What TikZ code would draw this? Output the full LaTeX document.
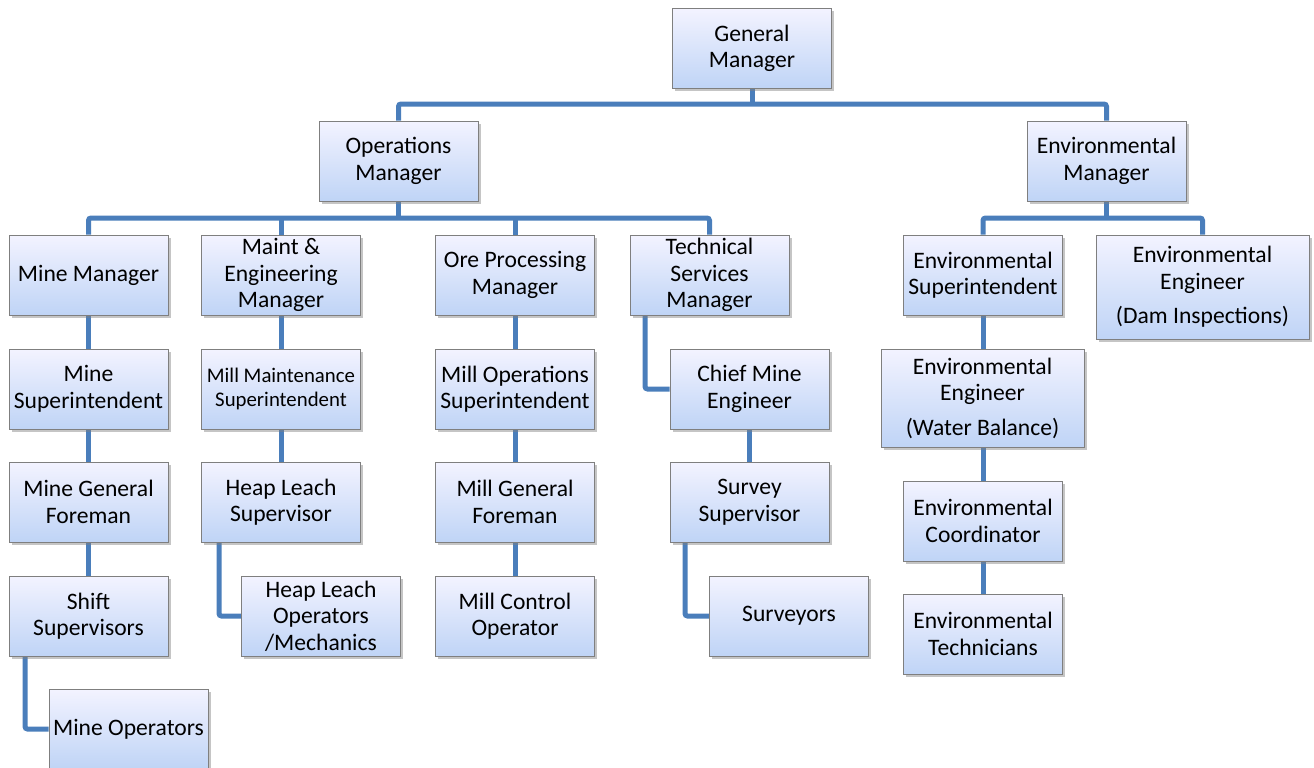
\documentclass[tikz,border=0pt]{standalone}
\usepackage{fontspec}
\setmainfont{Carlito}
\usetikzlibrary{shadows,backgrounds}
\definecolor{linec}{HTML}{4A7EBB}
\definecolor{boxtop}{HTML}{F3F3FF}
\definecolor{boxbot}{HTML}{BFD4F6}
\definecolor{boxline}{HTML}{7F7F7F}
\tikzset{
  box/.style={draw=boxline, line width=0.9pt, top color=boxtop, bottom color=boxbot,
    minimum width=159pt, minimum height=80pt, align=center, inner sep=0pt,
    font=\fontsize{23.6}{26.5}\selectfont,
    drop shadow={opacity=0.45, shadow xshift=2.5pt, shadow yshift=-2.5pt}},
  smalltext/.style={font=\fontsize{20.8}{24}\selectfont},
  conn/.style={draw=linec, line width=5pt, rounded corners=2.5pt}
}
\begin{document}
\begin{tikzpicture}[x=1pt,y=-1pt]
\useasboundingbox (0,0) rectangle (1314,768);
% level 0-1
\node[box] (gm) at (752,48.5) {General\\Manager};
\node[box] (ops) at (398.5,161) {Operations\\Manager};
\node[box] (env) at (1106.5,161) {Environmental\\Manager};
% level 2
\node[box] (mm) at (88.5,275) {Mine Manager};
\node[box] (maint) at (281,275) {Maint \&\\Engineering\\Manager};
\node[box] (ore) at (515,275) {Ore Processing\\Manager};
\node[box] (tsm) at (709.5,275) {Technical\\Services\\Manager};
\node[box] (esup) at (983,275) {Environmental\\Superintendent};
\node[box, minimum width=213pt, minimum height=104pt] (edam) at (1202.5,287) {Environmental\\Engineer\\[8pt](Dam Inspections)};
% level 3
\node[box] (msup) at (88.5,389) {Mine\\Superintendent};
\node[box, smalltext] (mmsup) at (281,389) {Mill Maintenance\\Superintendent};
\node[box] (mosup) at (515,389) {Mill Operations\\Superintendent};
\node[box] (cme) at (749.5,389) {Chief Mine\\Engineer};
\node[box, minimum width=203pt, minimum height=98pt] (ewb) at (982.5,398) {Environmental\\Engineer\\[8pt](Water Balance)};
% level 4
\node[box] (mgf) at (88.5,502) {Mine General\\Foreman};
\node[box] (hls) at (281,502) {Heap Leach\\Supervisor};
\node[box] (millgf) at (515,502) {Mill General\\Foreman};
\node[box] (ss) at (749.5,502) {Survey\\Supervisor};
\node[box] (ecoord) at (983,521) {Environmental\\Coordinator};
% level 5
\node[box] (shift) at (88.5,616) {Shift\\Supervisors};
\node[box] (hlo) at (321,616) {Heap Leach\\Operators\\/Mechanics};
\node[box] (mco) at (515,616) {Mill Control\\Operator};
\node[box] (surv) at (789,616) {Surveyors};
\node[box] (etech) at (983,634) {Environmental\\Technicians};
% level 6
\node[box] (mop) at (128.5,729) {Mine Operators};
% bus coordinates
\coordinate (b0) at (752,104);
\coordinate (b1) at (398.5,218);
\coordinate (b2) at (1106.5,218);
\begin{scope}[on background layer]
\fill[white] (0,0) rectangle (1314,768);
\draw[conn] (gm.south) -- (b0);
\draw[conn] (ops.north) |- (b0) -| (env.north);
\draw[conn] (ops.south) -- (b1);
\draw[conn] (mm.north) |- (b1) -| (tsm.north);
\draw[conn] (maint.north) -- (maint.north |- b1);
\draw[conn] (ore.north) -- (ore.north |- b1);
\draw[conn] (env.south) -- (b2);
\draw[conn] (esup.north) |- (b2) -| (edam.north);
% chains
\draw[conn] (mm.south) -- (msup.north);
\draw[conn] (msup.south) -- (mgf.north);
\draw[conn] (mgf.south) -- (shift.north);
\draw[conn] (shift.south -| 25,0) |- (mop.west);
\draw[conn] (maint.south) -- (mmsup.north);
\draw[conn] (mmsup.south) -- (hls.north);
\draw[conn] (hls.south -| 219,0) |- (hlo.west);
\draw[conn] (ore.south) -- (mosup.north);
\draw[conn] (mosup.south) -- (millgf.north);
\draw[conn] (millgf.south) -- (mco.north);
\draw[conn] (tsm.south -| 645,0) |- (cme.west);
\draw[conn] (cme.south) -- (ss.north);
\draw[conn] (ss.south -| 685,0) |- (surv.west);
\draw[conn] (esup.south) -- (esup.south |- ewb.north);
\draw[conn] (ewb.south -| ecoord.north) -- (ecoord.north);
\draw[conn] (ecoord.south) -- (etech.north);
\end{scope}
\end{tikzpicture}
\end{document}
